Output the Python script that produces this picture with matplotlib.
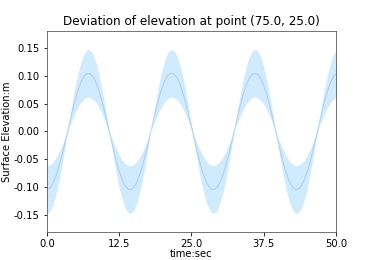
import numpy as np
import matplotlib as mpl
mpl.use('Agg')
import matplotlib.pyplot as plt

# time axis, sampled every 0.5 s
time_sec = [i * 0.5 for i in range(101)]

# ensemble mean of surface elevation at point (75.0, 25.0)
mean_elev = [
    -0.1050, -0.1025, -0.0952, -0.0833, -0.0675, -0.0485, -0.0272, -0.0046,
    0.0182, 0.0402, 0.0602, 0.0774, 0.0909, 0.1001, 0.1046, 0.1041,
    0.0987, 0.0886, 0.0742, 0.0564, 0.0359, 0.0137, -0.0092, -0.0316,
    -0.0525, -0.0709, -0.0860, -0.0970, -0.1034, -0.1049, -0.1014, -0.0931,
    -0.0804, -0.0639, -0.0444, -0.0227, 0.0000, 0.0227, 0.0444, 0.0639,
    0.0804, 0.0931, 0.1014, 0.1049, 0.1034, 0.0970, 0.0860, 0.0709,
    0.0525, 0.0316, 0.0092, -0.0137, -0.0359, -0.0564, -0.0742, -0.0886,
    -0.0987, -0.1041, -0.1046, -0.1001, -0.0909, -0.0774, -0.0602, -0.0402,
    -0.0182, 0.0046, 0.0272, 0.0485, 0.0675, 0.0833, 0.0952, 0.1025,
    0.1050, 0.1025, 0.0952, 0.0833, 0.0675, 0.0485, 0.0272, 0.0046,
    -0.0182, -0.0402, -0.0602, -0.0774, -0.0909, -0.1001, -0.1046, -0.1041,
    -0.0987, -0.0886, -0.0742, -0.0564, -0.0359, -0.0137, 0.0092, 0.0316,
    0.0525, 0.0709, 0.0860, 0.0970, 0.1034,
]

# standard deviation (half width of the shaded band)
std_elev = [
    0.0430, 0.0420, 0.0390, 0.0341, 0.0276, 0.0199, 0.0111, 0.0019,
    0.0075, 0.0165, 0.0247, 0.0317, 0.0372, 0.0410, 0.0428, 0.0426,
    0.0404, 0.0363, 0.0304, 0.0231, 0.0147, 0.0056, 0.0037, 0.0129,
    0.0215, 0.0291, 0.0352, 0.0397, 0.0423, 0.0430, 0.0415, 0.0381,
    0.0329, 0.0262, 0.0182, 0.0093, 0.0000, 0.0093, 0.0182, 0.0262,
    0.0329, 0.0381, 0.0415, 0.0430, 0.0423, 0.0397, 0.0352, 0.0291,
    0.0215, 0.0129, 0.0037, 0.0056, 0.0147, 0.0231, 0.0304, 0.0363,
    0.0404, 0.0426, 0.0428, 0.0410, 0.0372, 0.0317, 0.0247, 0.0165,
    0.0075, 0.0019, 0.0111, 0.0199, 0.0276, 0.0341, 0.0390, 0.0420,
    0.0430, 0.0420, 0.0390, 0.0341, 0.0276, 0.0199, 0.0111, 0.0019,
    0.0075, 0.0165, 0.0247, 0.0317, 0.0372, 0.0410, 0.0428, 0.0426,
    0.0404, 0.0363, 0.0304, 0.0231, 0.0147, 0.0056, 0.0037, 0.0129,
    0.0215, 0.0291, 0.0352, 0.0397, 0.0423,
]

x_ticks = [0.0, 12.5, 25.0, 37.5, 50.0]
y_ticks = [-0.15, -0.10, -0.05, 0.00, 0.05, 0.10, 0.15]

t = np.array(time_sec)
m = np.array(mean_elev)
s = np.array(std_elev)

fig = plt.figure(figsize=(374 / 72, 260 / 72), dpi=72)
ax = fig.add_axes([0.125, 0.108, 0.773, 0.773])

ax.fill_between(t, m - s, m + s, color='lightskyblue', alpha=0.4, linewidth=0)
ax.plot(t, m, color='cornflowerblue', alpha=0.35, linewidth=1.0)

ax.set_xlim(0, 50)
ax.set_ylim(-0.181, 0.181)
ax.set_xticks(x_ticks)
ax.set_xticklabels(['%.1f' % v for v in x_ticks])
ax.set_yticks(y_ticks)
ax.set_yticklabels(['%.2f' % v for v in y_ticks])
for sp in ax.spines.values():
    sp.set_color('#555555')

ax.set_xlabel('time:sec', labelpad=0)
ax.set_ylabel('Surface Elevation:m', labelpad=2)
ax.set_title('Deviation of elevation at point (75.0, 25.0)')

plt.savefig('out.png', dpi=72)
plt.close()
